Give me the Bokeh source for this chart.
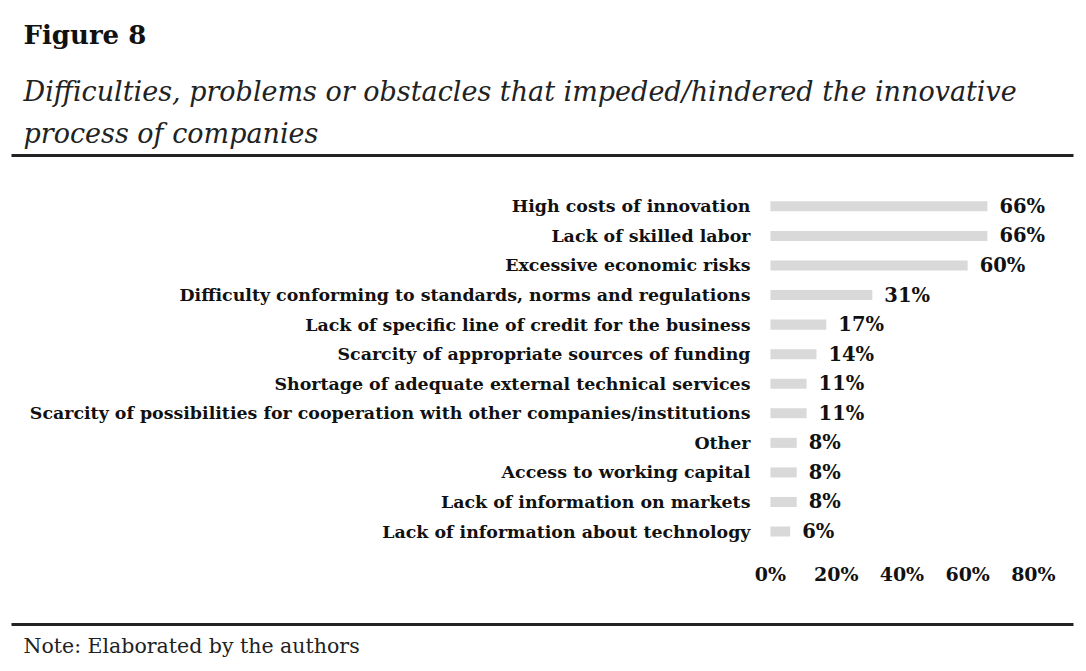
from bokeh.plotting import figure
from bokeh.models import ColumnDataSource, Range1d, LinearAxis, FixedTicker, Title
from bokeh.core.properties import value
from bokeh.embed import file_html
from bokeh.resources import INLINE

# --- data ---
figure_label = "Figure 8"
subtitle_lines = [
    "Difficulties, problems or obstacles that impeded/hindered the innovative",
    "process of companies",
]
note_text = "Note: Elaborated by the authors"

categories = [
    "High costs of innovation",
    "Lack of skilled labor",
    "Excessive economic risks",
    "Difficulty conforming to standards, norms and regulations",
    "Lack of specific line of credit for the business",
    "Scarcity of appropriate sources of funding",
    "Shortage of adequate external technical services",
    "Scarcity of possibilities for cooperation with other companies/institutions",
    "Other",
    "Access to working capital",
    "Lack of information on markets",
    "Lack of information about technology",
]
shares = [66, 66, 60, 31, 17, 14, 11, 11, 8, 8, 8, 6]

tick_values = [0, 20, 40, 60, 80]
tick_labels = ["0%", "20%", "40%", "60%", "80%"]

SERIF = "DejaVu Serif"
INK = "#111111"
RULE = "#222222"
BAR = "#d9d9d9"

n = len(categories)
src = ColumnDataSource(data=dict(
    cat=categories,
    share=shares,
    label=[f"{v}%" for v in shares],
    zero=[0] * n,
    pos=[n - 1 - i for i in range(n)],  # first category on top
))

p = figure(width=1078, height=665,
           x_range=Range1d(-230.9, 92.2), y_range=Range1d(-0.675, 12.72),
           x_axis_location=None, y_axis_location=None,
           toolbar_location=None, output_backend="svg",
           min_border_left=11, min_border_right=5,
           min_border_top=155, min_border_bottom=113)
p.outline_line_color = None
p.grid.visible = False

p.hbar(y="pos", left=0, right="share", height=0.34, source=src,
       fill_color=BAR, line_color=None)

# category labels, right aligned just left of the bars
p.text(x="zero", y="pos", text="cat", source=src, x_offset=-20,
       text_align="right", text_baseline="middle",
       text_font=value(SERIF), text_font_style="bold",
       text_font_size="17.4px", text_color=INK)

# value labels
p.text(x="share", y="pos", text="label", source=src, x_offset=12,
       text_align="left", text_baseline="middle",
       text_font=value(SERIF), text_font_style="bold",
       text_font_size="19.5px", text_color=INK)

# x axis with percentage ticks
xax = LinearAxis(ticker=FixedTicker(ticks=tick_values),
                 major_label_overrides=dict(zip(tick_values, tick_labels)))
xax.axis_line_color = None
xax.major_tick_line_color = None
xax.minor_tick_line_color = None
xax.major_label_standoff = 5
xax.major_label_text_font = SERIF
xax.major_label_text_font_style = "bold"
xax.major_label_text_font_size = "19px"
xax.major_label_text_color = INK
xax.axis_label = " "
xax.axis_label_text_font_size = "16px"
xax.axis_label_standoff = 17
p.add_layout(xax, "below")


def rule_axis():
    ax = LinearAxis(ticker=FixedTicker(ticks=[]))
    ax.axis_line_width = 3
    ax.axis_line_color = RULE
    ax.major_tick_line_color = None
    ax.minor_tick_line_color = None
    ax.major_label_text_font_size = "0px"
    return ax


p.add_layout(rule_axis(), "below")
p.add_layout(Title(text=note_text, align="left", offset=12, standoff=15,
                   text_font=SERIF, text_font_style="normal",
                   text_font_size="20.5px", text_color="#222222"), "below")

# header: rule first (closest to frame), then subtitle lines, then label
p.add_layout(rule_axis(), "above")
p.add_layout(Title(text=subtitle_lines[1], align="left", offset=12, standoff=13,
                   text_font=SERIF, text_font_style="italic",
                   text_font_size="27px", text_color="#222222"), "above")
p.add_layout(Title(text=subtitle_lines[0], align="left", offset=12, standoff=5,
                   text_font=SERIF, text_font_style="italic",
                   text_font_size="27px", text_color="#222222"), "above")
p.add_layout(Title(text=figure_label, align="left", offset=12, standoff=39,
                   vertical_align="top",
                   text_font=SERIF, text_font_style="bold",
                   text_font_size="26px", text_color=INK), "above")

open("out.html", "w").write(file_html(p, INLINE))
